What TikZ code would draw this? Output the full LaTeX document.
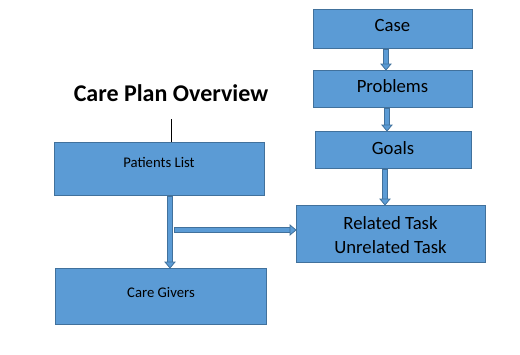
\documentclass[tikz,border=0pt]{standalone}
\usepackage{fontspec}
\setmainfont{Carlito}
\usetikzlibrary{arrows.meta,calc}
\definecolor{boxfill}{HTML}{5B9BD5}
\definecolor{boxline}{HTML}{41719C}
\tikzset{
  box/.style={draw=boxline, fill=boxfill, line width=1pt, inner sep=0pt, anchor=north west},
  bigtext/.style={font=\fontsize{18.7}{24}\selectfont},
  smalltext/.style={font=\fontsize{14.7}{17}\selectfont},
  shaftout/.style={draw=boxline, line width=5.5pt},
  shaftin/.style={draw=boxfill, line width=3.5pt},
  headstyle/.style={draw=boxline, fill=boxfill, line width=0.8pt, line join=miter},
}
\newcommand\blockarrow[2]{%
  \coordinate (ba-base) at ($(#2)!6pt!(#1)$);
  \coordinate (ba-l) at ($(ba-base)!5pt!90:(#2)$);
  \coordinate (ba-r) at ($(ba-base)!5pt!-90:(#2)$);
  \draw[shaftout] (#1) -- (ba-base);
  \draw[shaftin] ($(#1)!1pt!(#2)$) -- ($(ba-base)!-0.5pt!(#2)$);
  \draw[headstyle] (ba-l) -- (#2) -- (ba-r) -- cycle;
}
\begin{document}
\begin{tikzpicture}[x=1pt,y=-1pt]
\useasboundingbox (0,0) rectangle (520,354);
% boxes
\node[box, minimum width=159pt, minimum height=39pt] (case) at (313,9) {};
\node[bigtext] (caset) at (392.5,25) {Case};
\node[box, minimum width=159pt, minimum height=37pt] (prob) at (313,70) {};
\node[bigtext] (probt) at (392.5,86) {Problems};
\node[box, minimum width=156pt, minimum height=37pt] (goals) at (315,131) {};
\node[bigtext] (goalst) at (393,148) {Goals};
\node[box, minimum width=189pt, minimum height=57pt] (task) at (296,205) {};
\node[bigtext, align=center] (taskt) at (390.5,235) {Related Task\\Unrelated Task};
\node[box, minimum width=210pt, minimum height=53pt] (pat) at (54,142) {};
\node[smalltext] (patt) at (159,162) {Patients List};
\node[box, minimum width=211pt, minimum height=56pt] (care) at (55,268) {};
\node[smalltext] (caret) at (161,292) {Care Givers};
% title
\node[font=\fontsize{24}{28}\bfseries] (title) at (171,93) {Care Plan Overview};
\coordinate (tl) at (171,119);
\draw[black, line width=0.8pt] (tl) -- (tl |- pat.north);
% arrows
\coordinate (a1) at (386,0);
\coordinate (a1s) at (a1 |- case.south);
\coordinate (a1e) at (a1 |- prob.north);
\blockarrow{a1s}{a1e}
\coordinate (a2) at (387,0);
\coordinate (a2s) at (a2 |- prob.south);
\coordinate (a2e) at (a2 |- goals.north);
\blockarrow{a2s}{a2e}
\coordinate (a3) at (385,0);
\coordinate (a3s) at (a3 |- goals.south);
\coordinate (a3e) at (a3 |- task.north);
\blockarrow{a3s}{a3e}
\coordinate (a4) at (170,0);
\coordinate (a4s) at (a4 |- pat.south);
\coordinate (a4e) at (a4 |- care.north);
\blockarrow{a4s}{a4e}
\coordinate (h1) at (174,230);
\coordinate (h1e) at (h1 -| task.west);
\blockarrow{h1}{h1e}
\end{tikzpicture}
\end{document}
